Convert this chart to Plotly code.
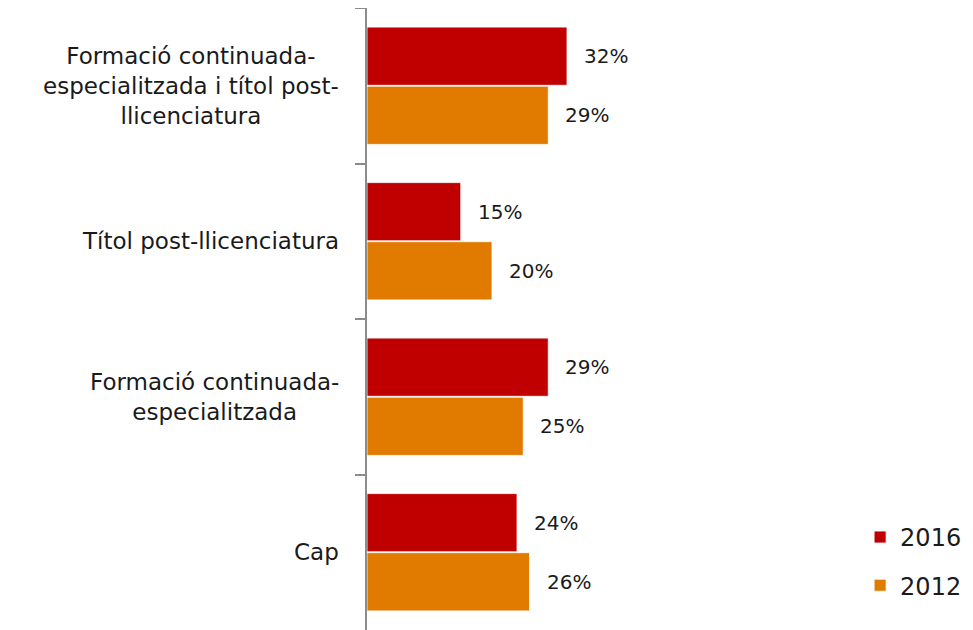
import plotly.graph_objects as go

categories = [
    "Formació continuada-<br>especialitzada i títol post-<br>llicenciatura",
    "Títol post-llicenciatura",
    "Formació continuada-<br>especialitzada",
    "Cap",
]
series_names = ["2016", "2012"]
values_2016 = [0.32, 0.15, 0.29, 0.24]
values_2012 = [0.29, 0.20, 0.25, 0.26]
colors = ["#C00000", "#E07B00"]

FONT = "DejaVu Sans"
TEXT = "#1a1a1a"

fig = go.Figure()
for name, vals, col in zip(series_names, [values_2016, values_2012], colors):
    fig.add_trace(go.Bar(
        y=categories, x=vals, name=name, orientation="h",
        marker=dict(color=col, line=dict(color="white", width=0.8)),
        legendgroup=name,
        hoverinfo="skip",
    ))

annotations = []
for cat in categories:
    annotations.append(dict(
        x=0, xref="paper", y=cat, yref="y", text=cat, showarrow=False,
        xanchor="right", yanchor="middle", align="center", xshift=-26,
        font=dict(family=FONT, size=23, color=TEXT),
    ))

for k, vals in enumerate([values_2016, values_2012]):
    shift = 29.5 if k == 0 else -29.5
    for cat, v in zip(categories, vals):
        annotations.append(dict(
            x=v, xref="x", y=cat, yref="y", text=f"{round(v*100)}%",
            showarrow=False, xanchor="left", yanchor="middle",
            xshift=15, yshift=shift,
            font=dict(family=FONT, size=20, color=TEXT),
        ))

fig.update_layout(
    width=965, height=622,
    margin=dict(l=359, r=356, t=0, b=0, pad=0, autoexpand=False),
    plot_bgcolor="white", paper_bgcolor="white",
    barmode="group", bargap=0.24, bargroupgap=0.015,
    font=dict(family=FONT, color=TEXT),
    showlegend=True,
    legend=dict(
        xref="container", yref="container", x=0.883, y=0.185,
        xanchor="left", yanchor="top",
        font=dict(family=FONT, size=24, color=TEXT),
        tracegroupgap=14, bgcolor="rgba(0,0,0,0)",
    ),
    annotations=annotations,
)
fig.update_xaxes(range=[0, 0.40], visible=False, fixedrange=True)
fig.update_yaxes(
    autorange="reversed", showticklabels=False,
    showline=True, linecolor="#8c8c8c", linewidth=2,
    ticks="outside", ticklen=10, tickcolor="#8c8c8c", tickwidth=1.5,
    tickson="boundaries", showgrid=False, zeroline=False,
)

fig.write_html("out.html")
